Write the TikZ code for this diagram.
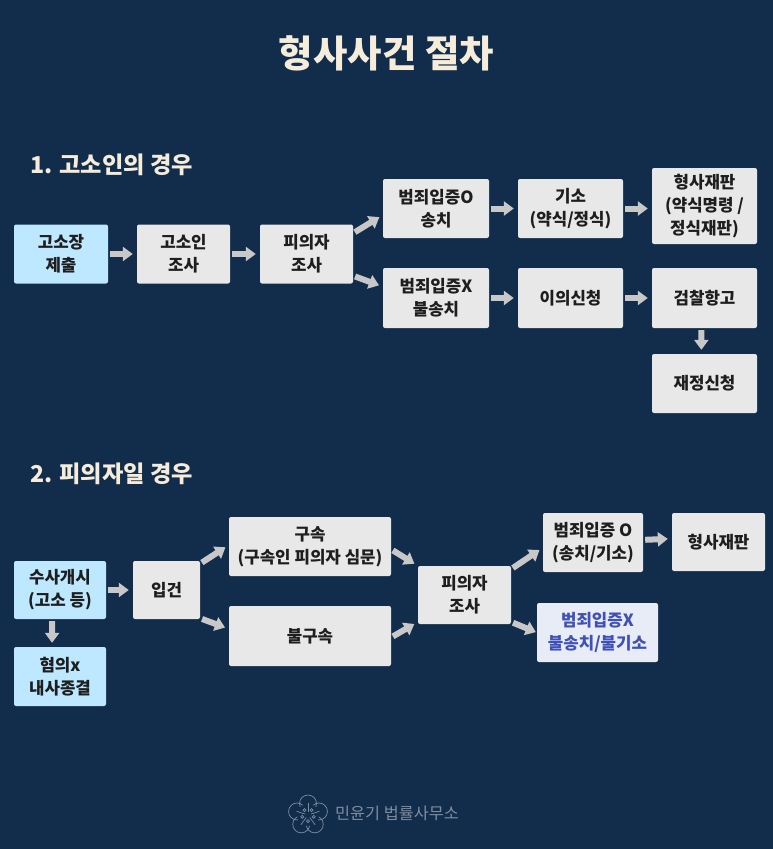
\documentclass[tikz,border=0pt]{standalone}
\usepackage{fontspec}
\setmainfont{Noto Sans CJK KR}
\usepackage{xcolor}
\usetikzlibrary{arrows.meta}
\definecolor{pagenavy}{HTML}{122C4B}
\definecolor{titlecream}{HTML}{F6ECDA}
\definecolor{boxgray}{HTML}{E8E8E8}
\definecolor{boxsky}{HTML}{BDE8FF}
\definecolor{boxpale}{HTML}{E8ECF6}
\definecolor{textblue}{HTML}{3F51B5}
\definecolor{textdark}{HTML}{1E1E1E}
\definecolor{arrowgray}{HTML}{C8C8C8}
\definecolor{logogray}{HTML}{7F8DA0}
\tikzset{
  procbox/.style={fill=boxgray,text=textdark,rounded corners=2pt,inner sep=0pt,
    align=center,minimum width=105pt,minimum height=59pt,
    font=\fontsize{16.8}{23}\selectfont\bfseries},
  skybox/.style={procbox,fill=boxsky},
  flowarrow/.style={-{Triangle[length=10pt,width=14pt]},line width=6pt,arrowgray,
    shorten <=2pt,shorten >=4pt},
  headlabel/.style={text=titlecream,inner sep=0pt,anchor=west,
    font=\fontsize{23.2}{27}\selectfont\bfseries},
}
\begin{document}
\begin{tikzpicture}[x=1pt,y=-1pt]
\fill[pagenavy] (0,0) rectangle (773,849);
\useasboundingbox (0,0) rectangle (773,849);

\node[text=titlecream,inner sep=0pt,font=\fontsize{37.4}{40}\selectfont\bfseries]
      (title) at (386.5,53) {형사사건 절차};

% first flow
\node[headlabel] (headone) at (30,165) {1. 고소인의 경우};
\node[skybox,minimum width=94pt] (filing) at (61,254) {고소장\\제출};
\node[procbox,minimum width=93pt] (complainant) at (183.5,254) {고소인\\조사};
\node[procbox,minimum width=93pt] (suspectone) at (306.5,254) {피의자\\조사};
\node[procbox,minimum width=106pt] (chargeyes) at (436,208.5) {범죄입증O\\송치};
\node[procbox] (indict) at (570.5,208.5) {기소\\(약식/정식)};
\node[procbox,minimum height=76pt] (trialone) at (704.5,206) {형사재판\\(약식명령 /\\정식재판)};
\node[procbox,minimum width=106pt,minimum height=60pt] (chargeno) at (436,298) {범죄입증X\\불송치};
\node[procbox,minimum height=60pt] (objection) at (570.5,298) {이의신청};
\node[procbox,minimum height=60pt] (appeal) at (704.5,298) {검찰항고};
\node[procbox] (review) at (704.5,383.5) {재정신청};

\draw[flowarrow] (filing) -- (complainant);
\draw[flowarrow] (complainant) -- (suspectone);
\draw[flowarrow] (suspectone.24) -- (chargeyes.187);
\draw[flowarrow] (suspectone.-25.6) -- (chargeno.168);
\draw[flowarrow] (chargeyes) -- (indict);
\draw[flowarrow] (indict) -- (trialone.west |- indict);
\draw[flowarrow] (chargeno) -- (objection);
\draw[flowarrow] (objection) -- (appeal);
\draw[flowarrow] (appeal.-96.7) -- (review.96.8);

% second flow
\node[headlabel] (headtwo) at (30,474) {2. 피의자일 경우};
\node[skybox,minimum width=92pt,minimum height=58pt] (inquiry) at (60,590) {수사개시\\(고소 등)};
\node[skybox,minimum width=92pt] (closure) at (60,676.5) {혐의x\\내사종결};
\node[procbox,minimum width=67pt,minimum height=58pt] (booking) at (166.5,590) {입건};
\node[procbox,minimum width=162pt] (custody) at (310,546.5) {구속\\(구속인 피의자 심문)};
\node[procbox,minimum width=162pt,minimum height=60pt] (nocustody) at (310,636) {불구속};
\node[procbox,minimum width=93pt,minimum height=58pt] (suspecttwo) at (464.5,595) {피의자\\조사};
\node[procbox,minimum width=100pt] (evidenceyes) at (593,542.5) {범죄입증 O\\(송치/기소)};
\node[procbox,minimum width=93pt,minimum height=58pt] (trialtwo) at (718.5,542) {형사재판};
\node[procbox,fill=boxpale,text=textblue,minimum width=121pt] (evidenceno) at (597.5,632.5) {범죄입증X\\불송치/불기소};

\draw[flowarrow] (inquiry) -- (booking);
\draw[flowarrow] (inquiry.-105.4) -- (closure.105);
\draw[flowarrow] (booking.38) -- (custody.179);
\draw[flowarrow] (booking.-40) -- (nocustody.175.3);
\draw[flowarrow] (custody.-2.8) -- (suspecttwo.north west);
\draw[flowarrow] (nocustody.-1) -- (suspecttwo.210.4);
\draw[flowarrow] (suspecttwo.29.2) -- (evidenceyes.186.8);
\draw[flowarrow,shorten >=1pt] (suspecttwo.-30.3) -- (evidenceno.180);
\draw[flowarrow] (evidenceyes.3.4) -- (trialtwo.176.3);

% footer mark
\node[text=logogray,inner sep=0pt,anchor=west,font=\fontsize{16.3}{18}\selectfont]
      (firmname) at (335,813) {민윤기 법률사무소};
\foreach \a in {90,162,234,306,18}{
  \draw[logogray,line width=0.7pt] (308,815)++({-\a}:11.5) circle (8.5);
}
\fill[pagenavy] (308,815) circle (11);
\foreach \a in {90,162,234,306,18}{
  \draw[logogray,line width=0.7pt] (308,815)++({-\a}:3) -- ++({-\a}:9);
  \draw[logogray,line width=0.7pt] (308,815)++({-\a+36}:6) circle (1.5);
}
\end{tikzpicture}
\end{document}
